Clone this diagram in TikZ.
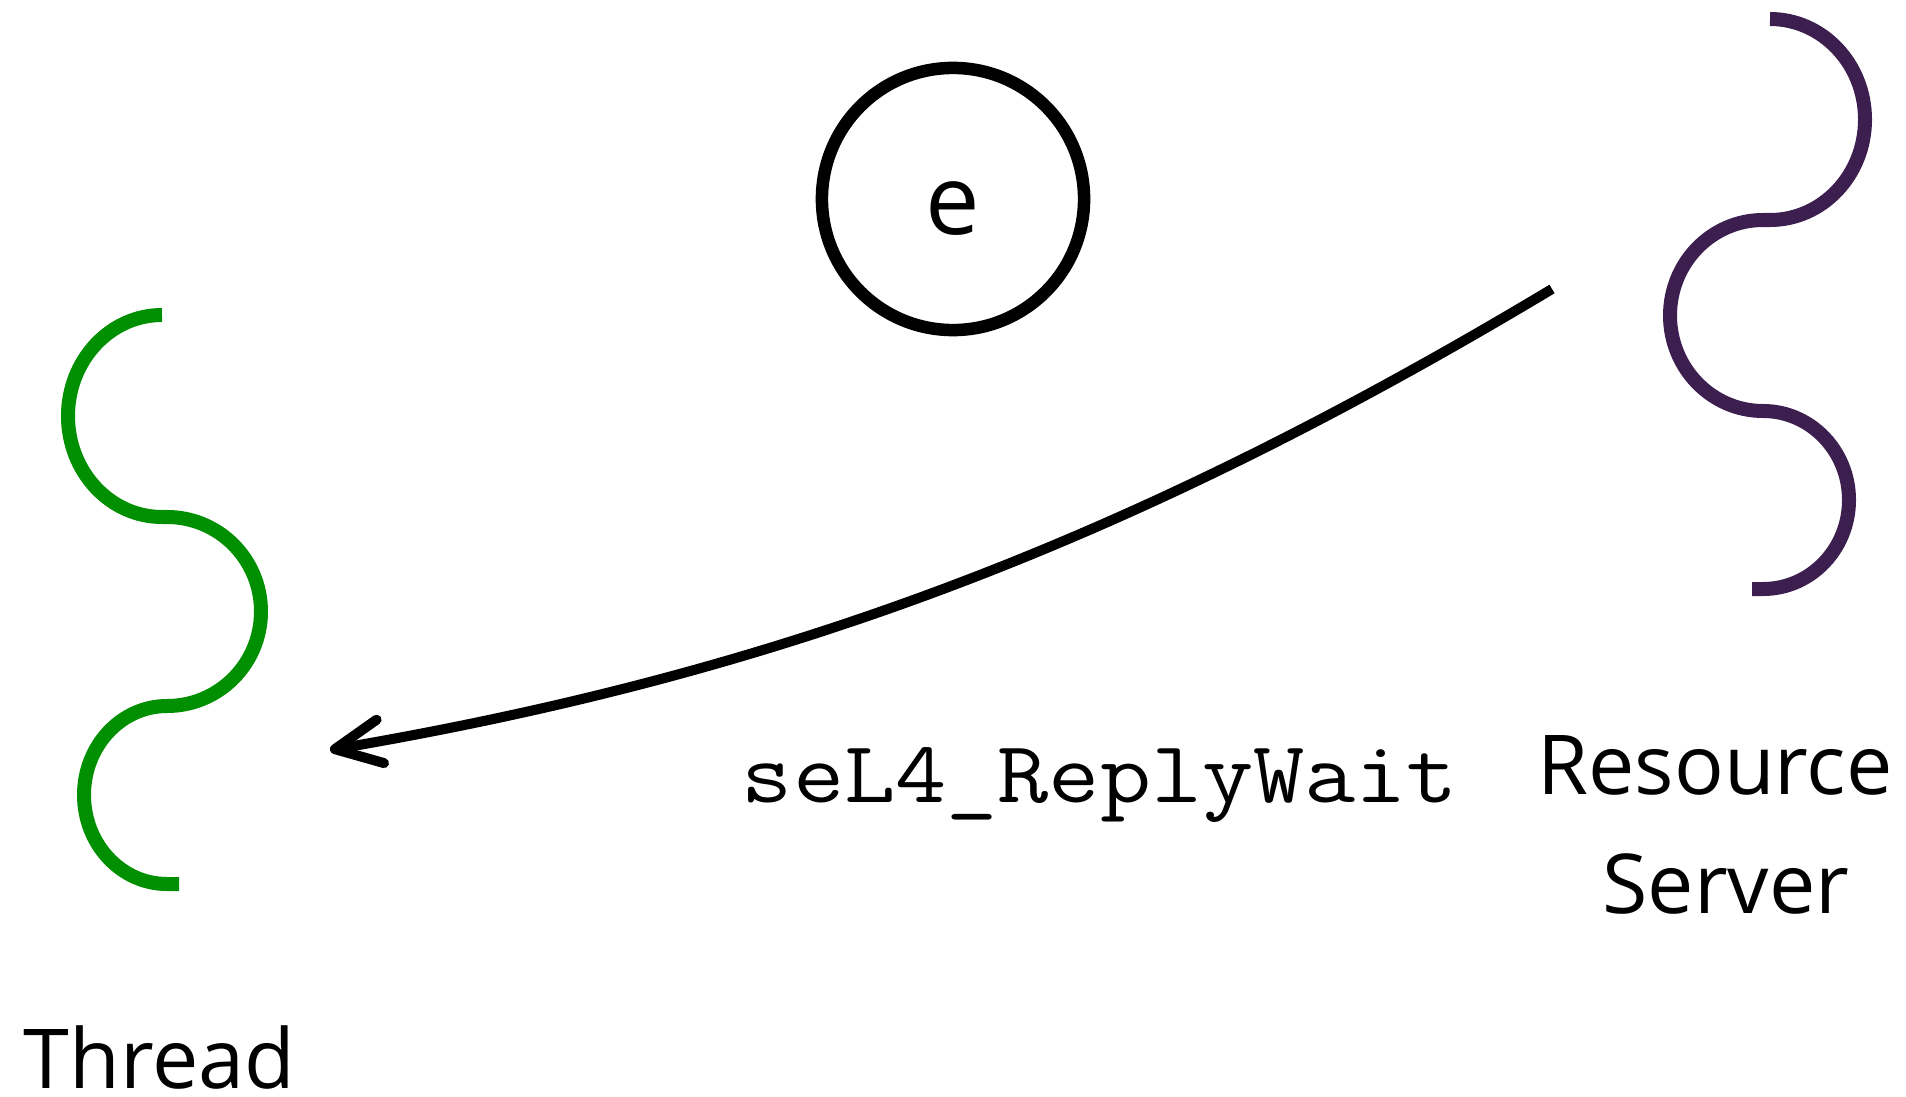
\documentclass[tikz,border=0pt]{standalone}
\usepackage{fontspec}
\setmainfont{Open Sans}
\usepackage{graphicx}
\usetikzlibrary{arrows.meta}
\definecolor{thrgreen}{RGB}{0,143,0}
\definecolor{srvpurple}{RGB}{60,31,78}
\begin{document}
\begin{tikzpicture}[x=0.01cm,y=-0.01cm,
  squig/.style={line width=0.14cm},
  lbl/.style={inner sep=0pt, font=\fontsize{23.5}{28}\selectfont},
  callarrow/.style={line width=0.10cm, -{Straight Barb[length=0.46cm,width=0.44cm,line cap=round,line join=round]}}]
\useasboundingbox (0,0) rectangle (1906,1097);
% endpoint circle
\node[circle, draw, line width=0.125cm, minimum size=2.62cm, inner sep=0pt,
      font=\fontsize{27.6}{30}\selectfont, text height=0.70cm, text depth=0pt] (ev) at (953,199) {e};
% thread squiggle
\draw[squig, thrgreen] (162,315)
  arc[start angle=270, end angle=90, x radius=94, y radius=101] -- (167,517)
  arc[start angle=270, end angle=450, x radius=94, y radius=94.5]
  arc[start angle=270, end angle=90, x radius=83, y radius=89] -- (179,884);
% server squiggle
\draw[squig, srvpurple] (1770,19)
  arc[start angle=270, end angle=450, x radius=95, y radius=100.5] -- (1763,220)
  arc[start angle=270, end angle=90, x radius=93, y radius=95.5]
  arc[start angle=270, end angle=450, x radius=86, y radius=89] -- (1752,589);
% arrow
\coordinate (aS) at (1552,289);
\coordinate (aE) at (330,750);
\draw[callarrow] (aS) .. controls (1123.5,546) and (774,674) .. (aE);
% labels
\node[lbl, anchor=base west] (thr) at (23,1088) {Thread};
\node[lbl, anchor=base] (res) at (1715,794) {Resource};
\node[lbl, anchor=base] (srv) at (1726,913) {Server};
\node[inner sep=0pt, anchor=base, font=\fontsize{25}{30}\selectfont\ttfamily] (call) at (1100,802) {\scalebox{1.13}[1]{seL4\_ReplyWait}};
\end{tikzpicture}
\end{document}
